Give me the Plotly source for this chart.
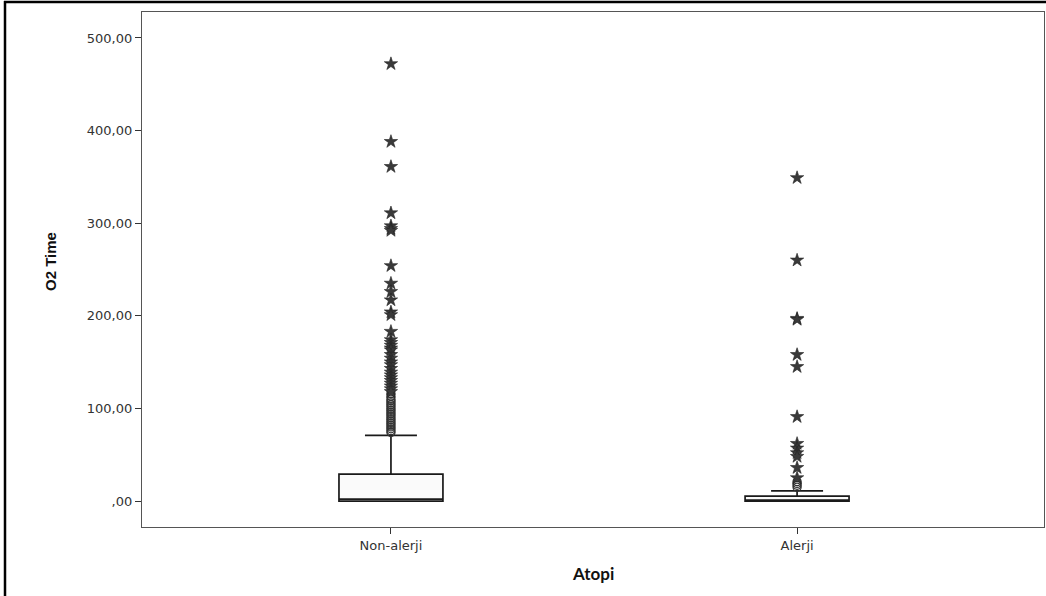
import plotly.graph_objects as go

categories = ["Non-alerji", "Alerji"]

# box statistics (q1, median, q3, lower whisker, upper whisker)
q1_vals = [0.0, 0.0]
median_vals = [2.0, 1.0]
q3_vals = [29.0, 5.4]
lower_vals = [0.0, 0.0]
upper_vals = [71.0, 11.0]

# outliers (circles) and extreme values (stars)
nonalerji_outliers = [116, 113, 110, 108, 106, 104, 102, 100, 98, 96, 94, 92, 90,
                      88, 86, 84, 82, 80, 78, 76, 74]
nonalerji_extremes = [472, 388, 361, 311, 297, 294, 292, 254, 235, 226, 217, 204, 201,
                      183, 174, 171, 168, 165, 163, 158, 154, 150, 147, 143, 139, 136,
                      133, 130, 127, 124, 121, 118]
alerji_outliers = [21, 19, 17, 15]
alerji_extremes = [349, 260, 197, 196, 158, 145, 91, 62, 57, 52, 48, 36, 25]

y_tickvals = [0, 100, 200, 300, 400, 500]
y_ticktext = [",00", "100,00", "200,00", "300,00", "400,00", "500,00"]

x_min, x_max = 142, 1044
y_top, y_bot = 12, 527
px_w = x_max - x_min
px_h = y_bot - y_top


def px_to_paper_x(px):
    return (px - x_min) / px_w


def px_to_paper_y(py):
    return (y_bot - py) / px_h


fig = go.Figure()
fig.add_trace(go.Box(
    x=categories,
    q1=q1_vals, median=median_vals, q3=q3_vals,
    lowerfence=lower_vals, upperfence=upper_vals,
    boxpoints=False,
    width=0.256,
    whiskerwidth=0.5,
    fillcolor="#fafafa",
    line=dict(color="#1a1a1a", width=1.7),
    showlegend=False,
    hoverinfo="skip",
))

outlier_x = [categories[0]] * len(nonalerji_outliers) + [categories[1]] * len(alerji_outliers)
outlier_y = nonalerji_outliers + alerji_outliers
extreme_x = [categories[0]] * len(nonalerji_extremes) + [categories[1]] * len(alerji_extremes)
extreme_y = nonalerji_extremes + alerji_extremes

fig.add_trace(go.Scatter(
    x=outlier_x, y=outlier_y, mode="markers",
    marker=dict(symbol="circle-open", size=8, color="#333333", line=dict(width=1.3)),
    showlegend=False, hoverinfo="skip",
))
fig.add_trace(go.Scatter(
    x=extreme_x, y=extreme_y, mode="markers",
    marker=dict(symbol="star", size=10, color="#3a3a3a",
                line=dict(width=0.6, color="#222222")),
    showlegend=False, hoverinfo="skip",
))

tick_font = dict(size=13, color="#333333", family="DejaVu Sans, Verdana, sans-serif")

fig.update_layout(
    width=1046, height=596,
    margin=dict(l=x_min, r=1046 - x_max, t=y_top, b=596 - y_bot),
    plot_bgcolor="white", paper_bgcolor="white",
    font=dict(family="DejaVu Sans, sans-serif", color="#333333"),
    xaxis=dict(
        type="category", range=[-0.613, 1.608],
        showline=True, linecolor="#555555", linewidth=1.2, mirror=True,
        ticks="outside", ticklen=6, tickcolor="#333333",
        tickfont=tick_font,
        showgrid=False, zeroline=False,
    ),
    yaxis=dict(
        range=[-28, 528],
        tickvals=y_tickvals, ticktext=y_ticktext,
        showline=True, linecolor="#555555", linewidth=1.2, mirror=True,
        ticks="outside", ticklen=6, tickcolor="#333333",
        tickfont=tick_font,
        showgrid=False, zeroline=False,
    ),
    annotations=[
        dict(text="<b>O2 Time</b>", xref="paper", yref="paper",
             x=px_to_paper_x(50), y=px_to_paper_y(262), textangle=-90,
             showarrow=False, xanchor="center", yanchor="middle",
             font=dict(size=15, color="#111111",
                       family="Liberation Sans Narrow, Liberation Sans, Arial, sans-serif")),
        dict(text="<b>Atopi</b>", xref="paper", yref="paper",
             x=px_to_paper_x(593), y=px_to_paper_y(573),
             showarrow=False, xanchor="center", yanchor="middle",
             font=dict(size=17, color="#111111",
                       family="Lato, Liberation Sans, Arial, sans-serif")),
    ],
)

# outer frame (left and top edges of the original figure border)
fig.add_shape(type="line", xref="paper", yref="paper",
              x0=px_to_paper_x(5), x1=px_to_paper_x(5),
              y0=px_to_paper_y(1), y1=px_to_paper_y(600),
              line=dict(color="black", width=2.5))
fig.add_shape(type="line", xref="paper", yref="paper",
              x0=px_to_paper_x(4), x1=px_to_paper_x(1050),
              y0=px_to_paper_y(2), y1=px_to_paper_y(2),
              line=dict(color="black", width=2.5))

fig.write_html(
    "out.html",
    config={"displayModeBar": False},
    post_script="document.body.style.margin='0';document.body.style.overflow='hidden';",
)
